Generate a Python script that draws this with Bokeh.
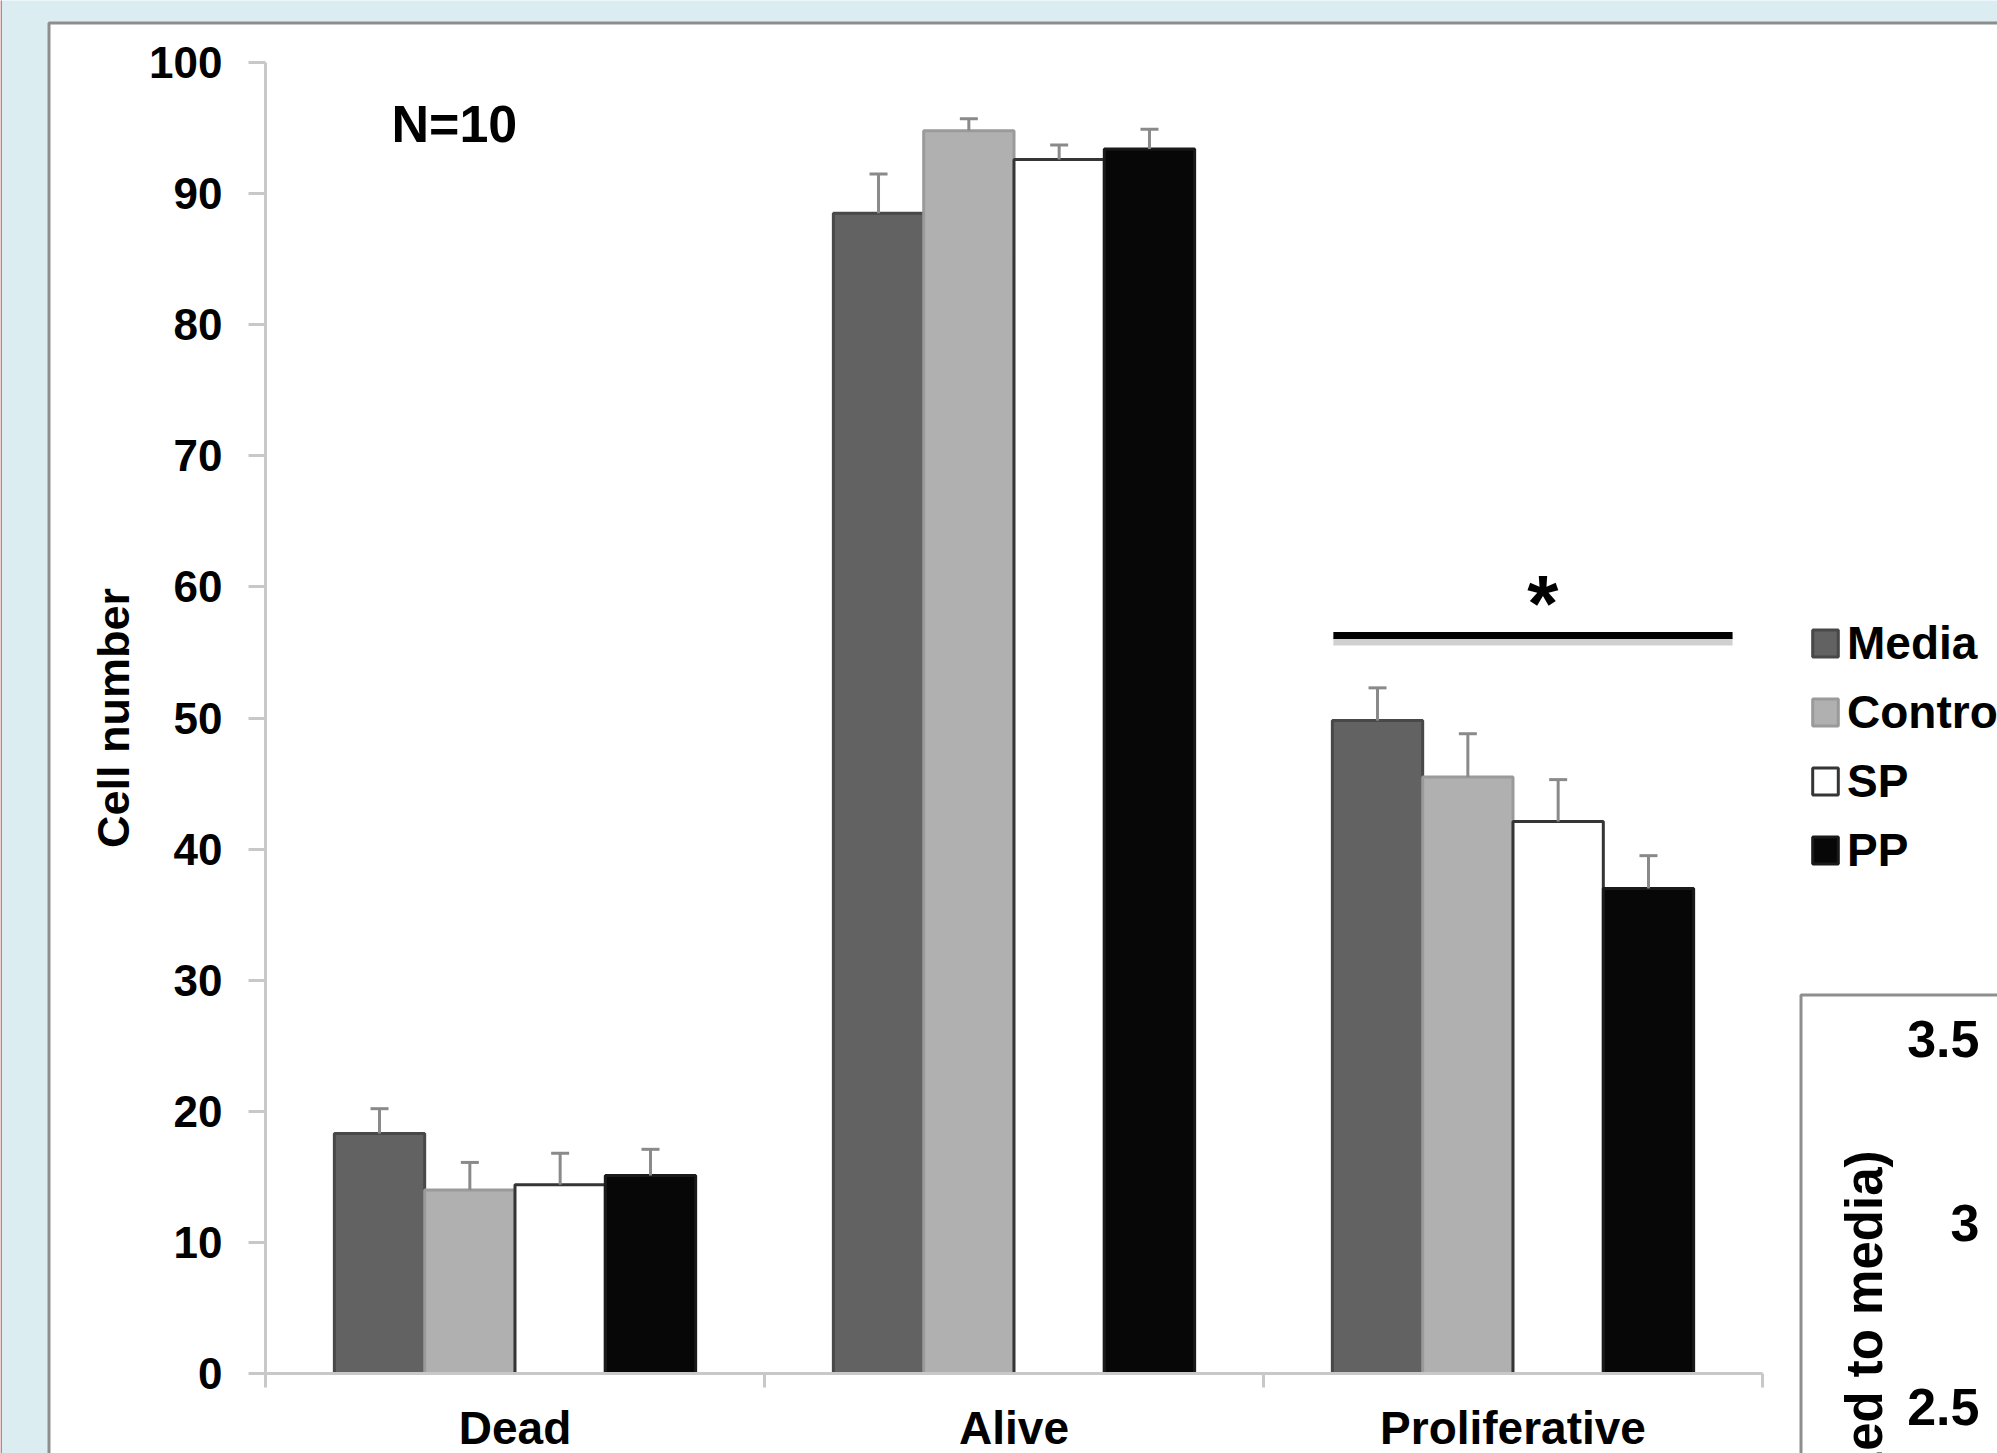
import math
from bokeh.plotting import figure
from bokeh.models import (ColumnDataSource, Range1d, LinearAxis, FixedTicker, Whisker,
                          TeeHead, Legend, LegendItem, Label)
from bokeh.embed import file_html
from bokeh.resources import INLINE
from bokeh.core.properties import value

# ---------------- data ----------------
categories = ["Dead", "Alive", "Proliferative"]
series = ["Media", "Control", "SP", "PP"]
media = [18.3, 88.5, 49.8]
control = [14.0, 94.8, 45.5]
sp = [14.4, 92.6, 42.1]
pp = [15.1, 93.4, 37.0]
media_err = [1.9, 3.0, 2.5]
control_err = [2.1, 0.9, 3.3]
sp_err = [2.4, 1.1, 3.2]
pp_err = [2.0, 1.5, 2.5]
y_ticks = [0, 10, 20, 30, 40, 50, 60, 70, 80, 90, 100]
n_text = "N=10"
sig_span = [2.14, 2.94]      # extent of the significance bar (category units)
sig_level = 56.3             # height of the significance bar (cell number)
star_text = "*"
star_level = 58.7
inset_ticks = [2.5, 3.0, 3.5]
inset_tick_labels = ["2.5", "3", "3.5"]
inset_title = "Fold change (normalized to media)"

# ---------------- layout constants ----------------
PAGE = 0
W, H = 1997, 1453
X0, XU = 265.0, 499.0      # pixel of x=0, pixels per category
Y0, YU = 1373.0, 13.11     # pixel of y=0, pixels per unit
IY0, IYU = 1038.0, 368.0   # inset axis: pixel of 3.5, pixels per unit

def fx(px):
    return (px - X0) / XU

def fy(py):
    return (Y0 - py) / YU

BLUE = "#dcedf1"
PANEL_LINE = "#8e8e8e"
AXIS_GREY = "#c8c8c8"
FONT = "Liberation Sans"
BAR_W = 0.181

p = figure(width=W, height=H,
           x_range=Range1d(fx(PAGE), fx(PAGE + W)),
           y_range=Range1d(fy(PAGE + H), fy(PAGE)),
           x_axis_type=None, y_axis_type=None,
           toolbar_location=None, output_backend="svg",
           min_border=0, background_fill_color=BLUE, border_fill_color=BLUE,
           outline_line_color=None)

# page edge line and panels
p.segment(x0=[fx(0.7)], x1=[fx(0.7)], y0=[fy(-50)], y1=[fy(1600)],
          line_color="#ee6a6a", line_width=1.5)
p.quad(left=[fx(48.5)], right=[fx(2300)], top=[fy(22.5)], bottom=[fy(1700)],
       fill_color="white", line_color=PANEL_LINE, line_width=3)
p.quad(left=[fx(1800.5)], right=[fx(2300)], top=[fy(994.5)], bottom=[fy(1700)],
       fill_color="white", line_color=PANEL_LINE, line_width=3)

# bars
styles = [
    ("#626262", "#484848"),
    ("#b0b0b0", "#9a9a9a"),
    ("#ffffff", "#353535"),
    ("#070707", "#1a1a1a"),
]
values = [media, control, sp, pp]
errors = [media_err, control_err, sp_err, pp_err]
renderers = []
for j, (name, vals, errs, (fill, line)) in enumerate(zip(series, values, errors, styles)):
    xs = [i + 0.5 + (j - 1.5) * BAR_W for i in range(len(categories))]
    src = ColumnDataSource(dict(x=xs, top=vals,
                                upper=[v + e for v, e in zip(vals, errs)],
                                cat=categories))
    r = p.vbar(x="x", top="top", bottom=0, width=BAR_W, source=src,
               fill_color=fill, line_color=line, line_width=3)
    renderers.append(r)
    w = Whisker(base="x", upper="upper", lower="top", source=src, dimension="height",
                line_color="#8a8a8a", line_width=3, level="annotation",
                upper_head=TeeHead(size=18, line_color="#8a8a8a", line_width=3),
                lower_head=None)
    p.add_layout(w)

# significance bar + star
p.segment(x0=[sig_span[0]], x1=[sig_span[1]], y0=[sig_level - 6 / YU], y1=[sig_level - 6 / YU],
          line_color="#c4c4c4", line_width=8, line_alpha=0.8)
p.segment(x0=[sig_span[0]], x1=[sig_span[1]], y0=[sig_level], y1=[sig_level],
          line_color="black", line_width=7)
p.text(x=[sum(sig_span) / 2 + 0.02], y=[star_level], text=[star_text],
       text_font=value(FONT), text_font_size="80px", text_font_style="bold",
       text_align="center", text_baseline="alphabetic", text_color="black")

# axes
yaxis = LinearAxis(fixed_location=0, ticker=FixedTicker(ticks=y_ticks), bounds=(0, 100),
                   axis_line_color=AXIS_GREY, axis_line_width=3,
                   major_tick_line_color=AXIS_GREY, major_tick_line_width=3,
                   major_tick_out=17, major_tick_in=0,
                   minor_tick_line_color=None,
                   major_label_standoff=26,
                   major_label_text_font=FONT, major_label_text_font_size="44px",
                   major_label_text_font_style="bold", major_label_text_color="black",
                   axis_label="Cell number", axis_label_standoff=7,
                   axis_label_text_font=FONT, axis_label_text_font_size="45px",
                   axis_label_text_font_style="bold", axis_label_text_color="black")
p.add_layout(yaxis, "left")

xaxis = LinearAxis(fixed_location=0,
                   ticker=FixedTicker(ticks=[i + 0.5 for i in range(len(categories))],
                                      minor_ticks=list(range(len(categories) + 1))),
                   bounds=(0, len(categories)),
                   major_label_overrides={i + 0.5: c for i, c in enumerate(categories)},
                   axis_line_color=AXIS_GREY, axis_line_width=3,
                   major_tick_line_color=None, major_tick_out=0, major_tick_in=0,
                   minor_tick_line_color=AXIS_GREY, minor_tick_line_width=3,
                   minor_tick_out=14, minor_tick_in=0,
                   major_label_standoff=14,
                   major_label_text_font=FONT, major_label_text_font_size="46px",
                   major_label_text_font_style="bold", major_label_text_color="black")
p.add_layout(xaxis, "below")

# inset (partially visible second chart)
p.extra_y_ranges = {"inset": Range1d(3.5 - (PAGE + H - IY0) / IYU, 3.5 + (IY0 - PAGE) / IYU)}
inset_axis = LinearAxis(y_range_name="inset", fixed_location=fx(2003),
                        ticker=FixedTicker(ticks=inset_ticks),
                        major_label_overrides=dict(zip(inset_ticks, inset_tick_labels)),
                        axis_line_color=None, major_tick_line_color=None,
                        minor_tick_line_color=None, major_tick_out=0, major_tick_in=0,
                        major_label_standoff=24,
                        major_label_text_font=FONT, major_label_text_font_size="52px",
                        major_label_text_font_style="bold", major_label_text_color="black")
p.add_layout(inset_axis, "left")
p.add_layout(Label(x=fx(1864), y=fy(1150), text=inset_title, angle=math.pi / 2,
                   text_align="right", text_baseline="alphabetic",
                   text_font=FONT, text_font_size="51px", text_font_style="bold",
                   text_color="black"))

# N label
p.add_layout(Label(x=fx(391), y=fy(123), text=n_text, text_baseline="alphabetic",
                   text_font=FONT, text_font_size="52px", text_font_style="bold",
                   text_color="black"))

# legend
legend = Legend(items=[LegendItem(label=s, renderers=[r]) for s, r in zip(series, renderers)],
                location=(1809, 576), orientation="vertical",
                background_fill_alpha=0, border_line_color=None,
                label_text_font=FONT, label_text_font_size="46px",
                label_text_font_style="bold", label_text_color="black",
                glyph_width=32, glyph_height=34, label_standoff=6,
                label_height=34, spacing=15, padding=0, margin=0)
p.add_layout(legend)

open("out.html", "w").write(file_html(p, INLINE))
